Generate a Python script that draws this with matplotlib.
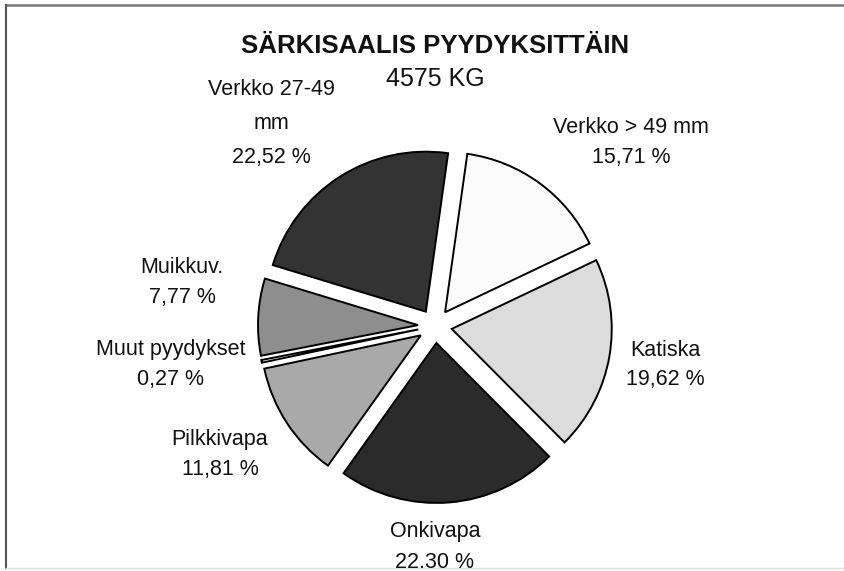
'''
exploded pie: roach catch by gear type (4575 kg)
'''

import matplotlib.pyplot as plt

plt.rcParams['font.family'] = ['Liberation Sans', 'DejaVu Sans']

######################################################

gears   = ['Verkko > 49 mm', 'Katiska', 'Onkivapa', 'Pilkkivapa',
           'Muut pyydykset', 'Muikkuv.', 'Verkko 27-49\nmm']
shares  = [15.71, 19.62, 22.30, 11.81, 0.27, 7.77, 22.52]
pct_txt = ['15,71 %', '19,62 %', '22.30 %', '11,81 %', '0,27 %', '7,77 %', '22,52 %']
colors  = ['#fbfbfb', '#dcdcdc', '#2b2b2b', '#a9a9a9', '#ffffff', '#8e8e8e', '#333333']
title   = 'SÄRKISAALIS PYYDYKSITTÄIN'
subtitle = '4575 KG'

# label anchor (pixel x, pixel y of first line)
label_pos = [(631, 128), (665, 350), (435, 532), (220, 440),
             (171, 349), (182, 268), (271, 90)]

######################################################

W, H = 845, 571
fig = plt.figure(figsize=(W / 100, H / 100), dpi=100)
ax = fig.add_axes([0, 0, 1, 1])

def py(y):
    return H - y

# pie geometry in pixels; explode is an absolute offset in data units
cx, cy, r = 435, 326, 160
ax.pie(shares, colors=colors, startangle=82, counterclock=False,
       explode=[17] * len(shares), center=(cx, py(cy)), radius=r,
       wedgeprops=dict(edgecolor='black', linewidth=1.4), frame=True)
ax.set_xlim(0, W)
ax.set_ylim(0, H)
ax.set_aspect('equal')
ax.axis('off')

fs = 15.5
for name, pct, (x, y) in zip(gears, pct_txt, label_pos):
    lines = name.split('\n') + [pct]
    step = 34 if len(lines) > 2 else 30
    for i, ln in enumerate(lines):
        ax.text(x, py(y + i * step), ln, ha='center', va='center',
                fontsize=fs, color='#111111')

ax.text(435, py(46), title, ha='center', va='center', fontsize=18.5,
        fontweight='bold', color='#111111')
ax.text(435, py(79), subtitle, ha='center', va='center', fontsize=18,
        color='#111111')

# chart border (top and left visible, as in the scan)
ax.plot([6, W], [py(5), py(5)], color='#777777', lw=1.8, clip_on=False)
ax.plot([6, 6], [py(5), py(568)], color='#555555', lw=1.5, clip_on=False)
ax.plot([6, W], [py(568), py(568)], color='#dddddd', lw=1.0, clip_on=False)

fig.savefig('out.png', dpi=100)
